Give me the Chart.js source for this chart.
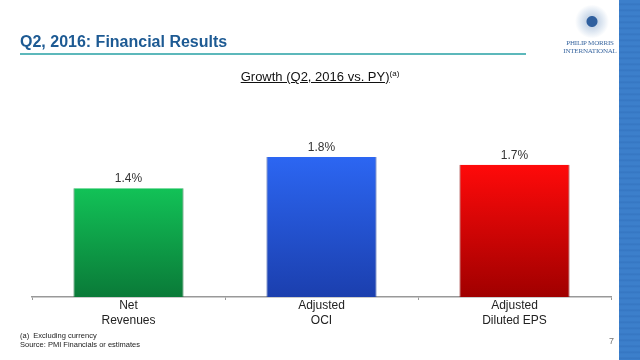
<!DOCTYPE html>
<html>
<head>
<meta charset="utf-8">
<script src="https://cdn.jsdelivr.net/npm/chart.js@4.4.1/dist/chart.umd.min.js"></script>
<style>
  html, body { margin: 0; padding: 0; background: #fff; }
  #wrap { position: relative; width: 640px; height: 360px; overflow: hidden; font-family: "Liberation Sans", Arial, sans-serif; }
  #c { position: absolute; left: 0; top: 0; }
  .abs { position: absolute; white-space: nowrap; }
  #title { left: 20px; top: 33px; font-size: 16px; font-weight: bold; color: #1d5a93; }
  #rule { left: 20px; top: 53px; width: 506px; height: 2px; background: #5cb8bb; }
  #sub { left: 0; width: 640px; top: 69px; text-align: center; font-size: 13px; color: #111; }
  #sub span.u { text-decoration: underline; }
  #sub sup { font-size: 8px; vertical-align: 5px; }
  #stripe { left: 619px; top: 0; width: 21px; height: 360px;
    background: repeating-linear-gradient(180deg, #3c7fcb 0px, #3c7fcb 3px, #3575c1 4px, #3c7fcb 6px); }
  #foot1 { left: 20px; top: 331px; font-size: 7.5px; color: #222; }
  #foot2 { left: 20px; top: 340px; font-size: 7.5px; color: #222; }
  #pnum { left: 609px; top: 336px; font-size: 9px; color: #777; }
  #logo1 { left: 560px; top: 39px; width: 60px; text-align: center; font-family: "Liberation Serif", "DejaVu Serif", serif; font-size: 7px; color: #3a67a0; line-height: 8px; letter-spacing: -0.2px; }
  #emb { left: 574px; top: 5px; width: 36px; height: 33px; border-radius: 50%; background: radial-gradient(circle, #2f5f9e 0 5px, #c9d7e8 6px, #e6edf5 12px, #fff 17px); }
</style>
</head>
<body>
<div id="wrap">
  <canvas id="c" width="640" height="360"></canvas>
  <div class="abs" id="title">Q2, 2016: Financial Results</div>
  <div class="abs" id="rule"></div>
  <div class="abs" id="sub"><span class="u">Growth (Q2, 2016 vs. PY)</span><sup>(a)</sup></div>
  <div class="abs" id="emb"></div>
  <div class="abs" id="logo1">PHILIP MORRIS<br>INTERNATIONAL</div>
  <div class="abs" id="stripe"></div>
  <div class="abs" id="foot1">(a)&nbsp; Excluding currency</div>
  <div class="abs" id="foot2">Source: PMI Financials or estimates</div>
  <div class="abs" id="pnum">7</div>
</div>
<script>
// ---- data ----
const categories = [["Net", "Revenues"], ["Adjusted", "OCI"], ["Adjusted", "Diluted EPS"]];
const growthValues = [1.4, 1.8, 1.7];
const valueLabels = ["1.4%", "1.8%", "1.7%"];

// ---- styles ----
const gradStops = [
  ["#12c257", "#0a7a38"],
  ["#2c66f2", "#1b3fae"],
  ["#ff0a0a", "#a00000"]
];
const edgeColors = ["#0b6a32", "#17389a", "#8a0000"];

function barFill(ctx) {
  const chart = ctx.chart;
  const area = chart.chartArea;
  const i = ctx.dataIndex;
  if (!area) return gradStops[i][0];
  const base = chart.scales.y.getPixelForValue(0);
  const top = chart.scales.y.getPixelForValue(growthValues[i]);
  const g = chart.ctx.createLinearGradient(0, top, 0, base);
  g.addColorStop(0, gradStops[i][0]);
  g.addColorStop(1, gradStops[i][1]);
  return g;
}

const valueLabelPlugin = {
  id: 'valueLabels',
  afterDatasetsDraw(chart) {
    const ctx = chart.ctx;
    const meta = chart.getDatasetMeta(0);
    ctx.save();
    ctx.font = '12px "Liberation Sans", Arial, sans-serif';
    ctx.fillStyle = '#333';
    ctx.textAlign = 'center';
    ctx.textBaseline = 'middle';
    meta.data.forEach((bar, i) => {
      ctx.fillText(valueLabels[i], bar.x, bar.y - 9);
    });
    ctx.restore();
  }
};

new Chart(document.getElementById('c'), {
  type: 'bar',
  data: {
    labels: categories,
    datasets: [{
      data: growthValues,
      backgroundColor: barFill,
      borderColor: edgeColors,
      borderWidth: { left: 1, right: 1, top: 0, bottom: 0 },
      borderSkipped: false,
      categoryPercentage: 1.0,
      barPercentage: 0.57
    }]
  },
  options: {
    responsive: false,
    animation: false,
    devicePixelRatio: 1,
    layout: { padding: { left: 32, right: 29, top: 102.6, bottom: 0 } },
    plugins: { legend: { display: false }, tooltip: { enabled: false }, title: { display: false } },
    scales: {
      y: { display: false, min: 0, max: 2.5 },
      x: {
        afterFit(scale) { scale.height = 63; },
        border: { display: true, color: '#999', width: 1.5 },
        grid: { display: true, offset: true, drawOnChartArea: false, drawTicks: true, tickLength: 3, color: '#999', lineWidth: 1 },
        ticks: {
          color: '#222',
          padding: -1,
          font: { family: '"Liberation Sans", Arial, sans-serif', size: 12, lineHeight: 1.18 },
          maxRotation: 0
        }
      }
    }
  },
  plugins: [valueLabelPlugin]
});
</script>
</body>
</html>
